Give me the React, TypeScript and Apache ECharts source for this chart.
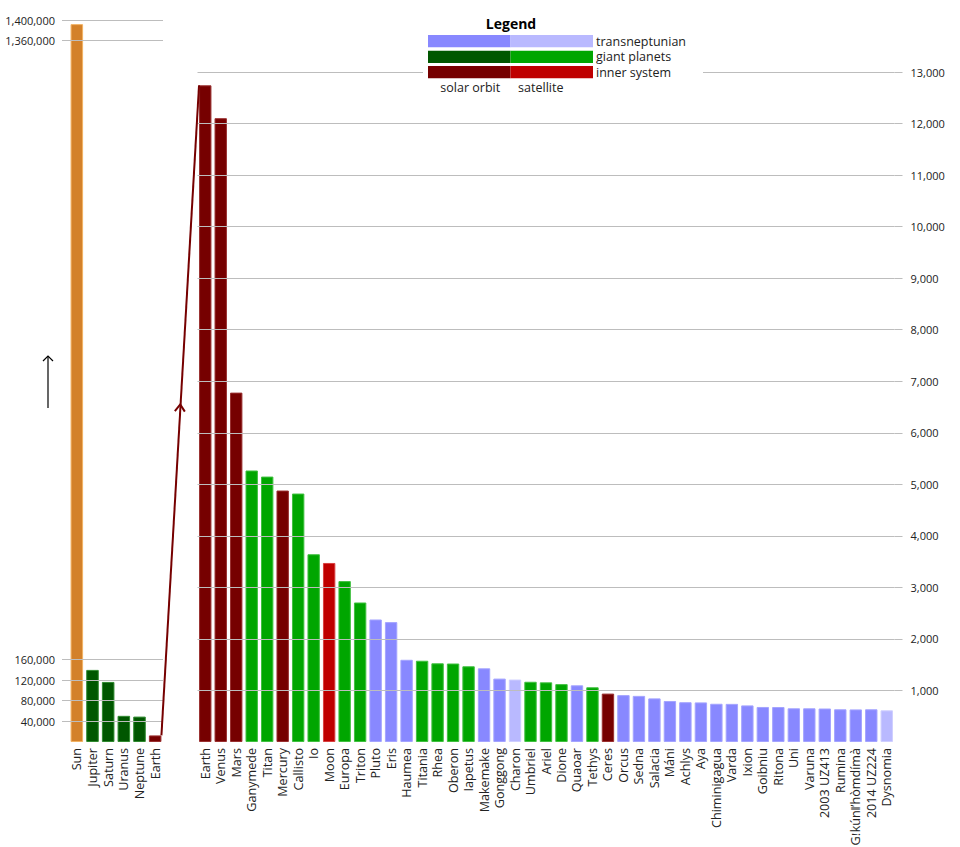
import React, { useEffect, useRef } from "react";
import * as echarts from "echarts";

const leftCategories = ["Sun", "Jupiter", "Saturn", "Uranus", "Neptune", "Earth"];
const leftValues = [1392000, 139822, 116464, 50724, 49244, 12742];
const leftKinds = ["star", "giantOrbit", "giantOrbit", "giantOrbit", "giantOrbit", "innerOrbit"];
const leftTicks = [40000, 80000, 120000, 160000, 1360000, 1400000];

const rightCategories = [
  "Earth", "Venus", "Mars", "Ganymede", "Titan", "Mercury", "Callisto", "Io", "Moon", "Europa",
  "Triton", "Pluto", "Eris", "Haumea", "Titania", "Rhea", "Oberon", "Iapetus", "Makemake", "Gonggong",
  "Charon", "Umbriel", "Ariel", "Dione", "Quaoar", "Tethys", "Ceres", "Orcus", "Sedna", "Salacia",
  "Máni", "Achlys", "Aya", "Chiminigagua", "Varda", "Ixion", "Goibniu", "Ritona", "Uni", "Varuna",
  "2003 UZ413", "Rumina", "Gǃkúnǁʼhòmdímà", "2014 UZ224", "Dysnomia",
];
const rightValues = [
  12742, 12104, 6779, 5268, 5150, 4879, 4821, 3643, 3474, 3122,
  2707, 2377, 2326, 1595, 1577, 1527, 1523, 1469, 1430, 1230,
  1212, 1169, 1158, 1123, 1100, 1062, 939, 910, 895, 846,
  796, 772, 768, 742, 740, 710, 680, 679, 654, 654,
  650, 635, 632, 635, 615,
];
const rightKinds = [
  "innerOrbit", "innerOrbit", "innerOrbit", "giantSat", "giantSat", "innerOrbit", "giantSat", "giantSat", "innerSat", "giantSat",
  "giantSat", "tnoOrbit", "tnoOrbit", "tnoOrbit", "giantSat", "giantSat", "giantSat", "giantSat", "tnoOrbit", "tnoOrbit",
  "tnoSat", "giantSat", "giantSat", "giantSat", "tnoOrbit", "giantSat", "innerOrbit", "tnoOrbit", "tnoOrbit", "tnoOrbit",
  "tnoOrbit", "tnoOrbit", "tnoOrbit", "tnoOrbit", "tnoOrbit", "tnoOrbit", "tnoOrbit", "tnoOrbit", "tnoOrbit", "tnoOrbit",
  "tnoOrbit", "tnoOrbit", "tnoOrbit", "tnoOrbit", "tnoSat",
];
const rightTicks = [1000, 2000, 3000, 4000, 5000, 6000, 7000, 8000, 9000, 10000, 11000, 12000, 13000];

const legendRows = ["transneptunian", "giant planets", "inner system"];
const legendColumns = ["solar orbit", "satellite"];

const kindColors: Record<string, string> = {
  star: "#d3812a",
  innerOrbit: "#760000",
  innerSat: "#bf0000",
  giantOrbit: "#005700",
  giantSat: "#00a600",
  tnoOrbit: "#8888ff",
  tnoSat: "#b9b9ff",
};
const kindBorders: Record<string, string> = {
  star: "#f2b262",
  innerOrbit: "#9a3030",
  innerSat: "#d84040",
  giantOrbit: "#2f8a2f",
  giantSat: "#40c040",
  tnoOrbit: "#a4a4ff",
  tnoSat: "#cfcfff",
};
const legendColorKinds = [
  ["tnoOrbit", "tnoSat"],
  ["giantOrbit", "giantSat"],
  ["innerOrbit", "innerSat"],
];

const FONT = "Open Sans";
const fmt = (v: number) => v.toLocaleString("en-US");

export default function App() {
  const ref = useRef<HTMLDivElement>(null);
  useEffect(() => {
    if (!ref.current) return;
    const chart = echarts.init(ref.current, null, { renderer: "svg" });
    const gridLineStyle = { color: "#bdbdbd", width: 1, type: "solid" as const };
    const catLabel = {
      rotate: 90,
      fontSize: 12.6,
      color: "#222",
      fontFamily: FONT,
      margin: 6,
      interval: 0,
    };
    const valLabel = { fontSize: 11, color: "#222", fontFamily: FONT };

    chart.setOption({
      animation: false,
      textStyle: { fontFamily: FONT },
      grid: [
        { left: 69, width: 94, top: 20, height: 722, outerBoundsMode: "none", containLabel: false },
        { left: 197.5, width: 697, top: 72, height: 670, outerBoundsMode: "none", containLabel: false },
      ],
      xAxis: [
        {
          type: "category",
          gridIndex: 0,
          data: leftCategories,
          axisLine: { show: false },
          axisTick: { show: false },
          axisLabel: catLabel,
        },
        {
          type: "category",
          gridIndex: 1,
          data: rightCategories,
          axisLine: { show: false },
          axisTick: { show: false },
          axisLabel: catLabel,
        },
      ],
      yAxis: [
        {
          type: "value",
          gridIndex: 0,
          min: 0,
          max: 1400000,
          interval: 40000,
          axisLine: { show: false },
          splitLine: { show: false },
          axisTick: { show: true, length: 7, lineStyle: gridLineStyle, customValues: leftTicks },
          axisLabel: { ...valLabel, margin: 14, customValues: leftTicks, formatter: fmt },
        },
        {
          type: "value",
          gridIndex: 1,
          position: "right",
          min: 0,
          max: 13000,
          interval: 1000,
          axisLine: { show: false },
          splitLine: { show: false },
          axisTick: { show: true, length: 8, lineStyle: gridLineStyle, customValues: rightTicks },
          axisLabel: { ...valLabel, margin: 16, customValues: rightTicks, formatter: fmt },
        },
      ],
      series: [
        {
          type: "line",
          xAxisIndex: 0,
          yAxisIndex: 0,
          data: [],
          z: 1,
          silent: true,
          markLine: {
            silent: true,
            symbol: ["none", "none"],
            label: { show: false },
            lineStyle: gridLineStyle,
            data: leftTicks.map((v) => ({ yAxis: v })),
          },
        },
        {
          type: "line",
          xAxisIndex: 1,
          yAxisIndex: 1,
          data: [],
          z: 1,
          silent: true,
          markLine: {
            silent: true,
            symbol: ["none", "none"],
            label: { show: false },
            lineStyle: gridLineStyle,
            data: rightTicks.map((v) => ({ yAxis: v })),
          },
        },
        {
          type: "bar",
          xAxisIndex: 0,
          yAxisIndex: 0,
          z: 3,
          barCategoryGap: "20%",
          data: leftValues.map((v, i) => ({
            value: v,
            itemStyle: { color: kindColors[leftKinds[i]], borderColor: kindBorders[leftKinds[i]], borderWidth: 1 },
          })),
        },
        {
          type: "bar",
          xAxisIndex: 1,
          yAxisIndex: 1,
          z: 3,
          barCategoryGap: "20%",
          data: rightValues.map((v, i) => ({
            value: v,
            itemStyle: { color: kindColors[rightKinds[i]], borderColor: kindBorders[rightKinds[i]], borderWidth: 1 },
          })),
        },
      ],
    });

    // connection line between the two Earth bars, from the chart's own scales
    const earthL = leftCategories.indexOf("Earth");
    const earthR = rightCategories.indexOf("Earth");
    const pL = chart.convertToPixel({ xAxisIndex: 0, yAxisIndex: 0 }, [earthL, leftValues[earthL]]) as number[];
    const pL0 = chart.convertToPixel({ xAxisIndex: 0, yAxisIndex: 0 }, [earthL - 1, 0]) as number[];
    const pR = chart.convertToPixel({ xAxisIndex: 1, yAxisIndex: 1 }, [earthR, rightValues[earthR]]) as number[];
    const pR1 = chart.convertToPixel({ xAxisIndex: 1, yAxisIndex: 1 }, [earthR + 1, 0]) as number[];
    const bwL = (pL[0] - pL0[0]) * 0.8;
    const bwR = (pR1[0] - pR[0]) * 0.8;
    const a = [pL[0] + bwL / 2, pL[1]];
    const b = [pR[0] - bwR / 2, pR[1]];
    const mid = [(a[0] + b[0]) / 2, (a[1] + b[1]) / 2 - 6];
    const dx = b[0] - a[0];
    const dy = b[1] - a[1];
    const len = Math.sqrt(dx * dx + dy * dy);
    const ux = dx / len;
    const uy = dy / len;
    const nx = -uy;
    const ny = ux;
    const ah = 7;
    const aw = 5;
    const chevron = [
      [mid[0] - ux * ah + nx * aw, mid[1] - uy * ah + ny * aw],
      [mid[0], mid[1]],
      [mid[0] - ux * ah - nx * aw, mid[1] - uy * ah - ny * aw],
    ];

    const legendX = 428;
    const legendCellW = 82.5;
    const legendRowY = [35, 50.7, 66];
    const legendRowH = 12.3;
    const legendGraphics: any[] = [
      {
        type: "rect",
        shape: { x: 423, y: 10, width: 280, height: 86 },
        style: { fill: "#ffffff" },
        z: 50,
      },
      {
        type: "text",
        x: 511,
        y: 23,
        style: { text: "Legend", fontFamily: FONT, fontSize: 14, fontWeight: "bold", fill: "#000", align: "center", verticalAlign: "middle" },
        z: 52,
      },
    ];
    legendRows.forEach((row, r) => {
      legendColorKinds[r].forEach((k, c) => {
        legendGraphics.push({
          type: "rect",
          shape: { x: legendX + c * legendCellW, y: legendRowY[r], width: legendCellW, height: legendRowH },
          style: { fill: kindColors[k] },
          z: 51,
        });
      });
      legendGraphics.push({
        type: "text",
        x: legendX + 2 * legendCellW + 3,
        y: legendRowY[r] + legendRowH / 2,
        style: {
          text: row,
          fontFamily: FONT,
          fontSize: 12.5,
          lineHeight: 14,
          fill: "#222",
          align: "left",
          verticalAlign: "middle",
        },
        z: 52,
      });
    });
    legendColumns.forEach((col, c) => {
      legendGraphics.push({
        type: "text",
        x: legendX + c * legendCellW + legendCellW / 2 + (c === 0 ? 1 : -11),
        y: 87,
        style: { text: col, fontFamily: FONT, fontSize: 12.5, lineHeight: 14, fill: "#222", align: "center", verticalAlign: "middle" },
        z: 52,
      });
    });

    chart.setOption({
      graphic: [
        {
          type: "line",
          shape: { x1: a[0], y1: a[1], x2: b[0], y2: b[1] },
          style: { stroke: "#760000", lineWidth: 2 },
          z: 10,
        },
        {
          type: "polyline",
          shape: { points: chevron },
          style: { stroke: "#760000", lineWidth: 2, fill: "none" },
          z: 10,
        },
        {
          type: "line",
          shape: { x1: 48, y1: 408, x2: 48, y2: 356 },
          style: { stroke: "#000", lineWidth: 1.2 },
          z: 10,
        },
        {
          type: "polyline",
          shape: { points: [[43, 361], [48, 356], [53, 361]] },
          style: { stroke: "#000", lineWidth: 1.2, fill: "none" },
          z: 10,
        },
        ...legendGraphics,
      ],
    });

    return () => chart.dispose();
  }, []);
  return (
    <div
      ref={ref}
      style={{ position: "fixed", left: 0, top: 0, width: 960, height: 847, background: "#fff" }}
    />
  );
}
